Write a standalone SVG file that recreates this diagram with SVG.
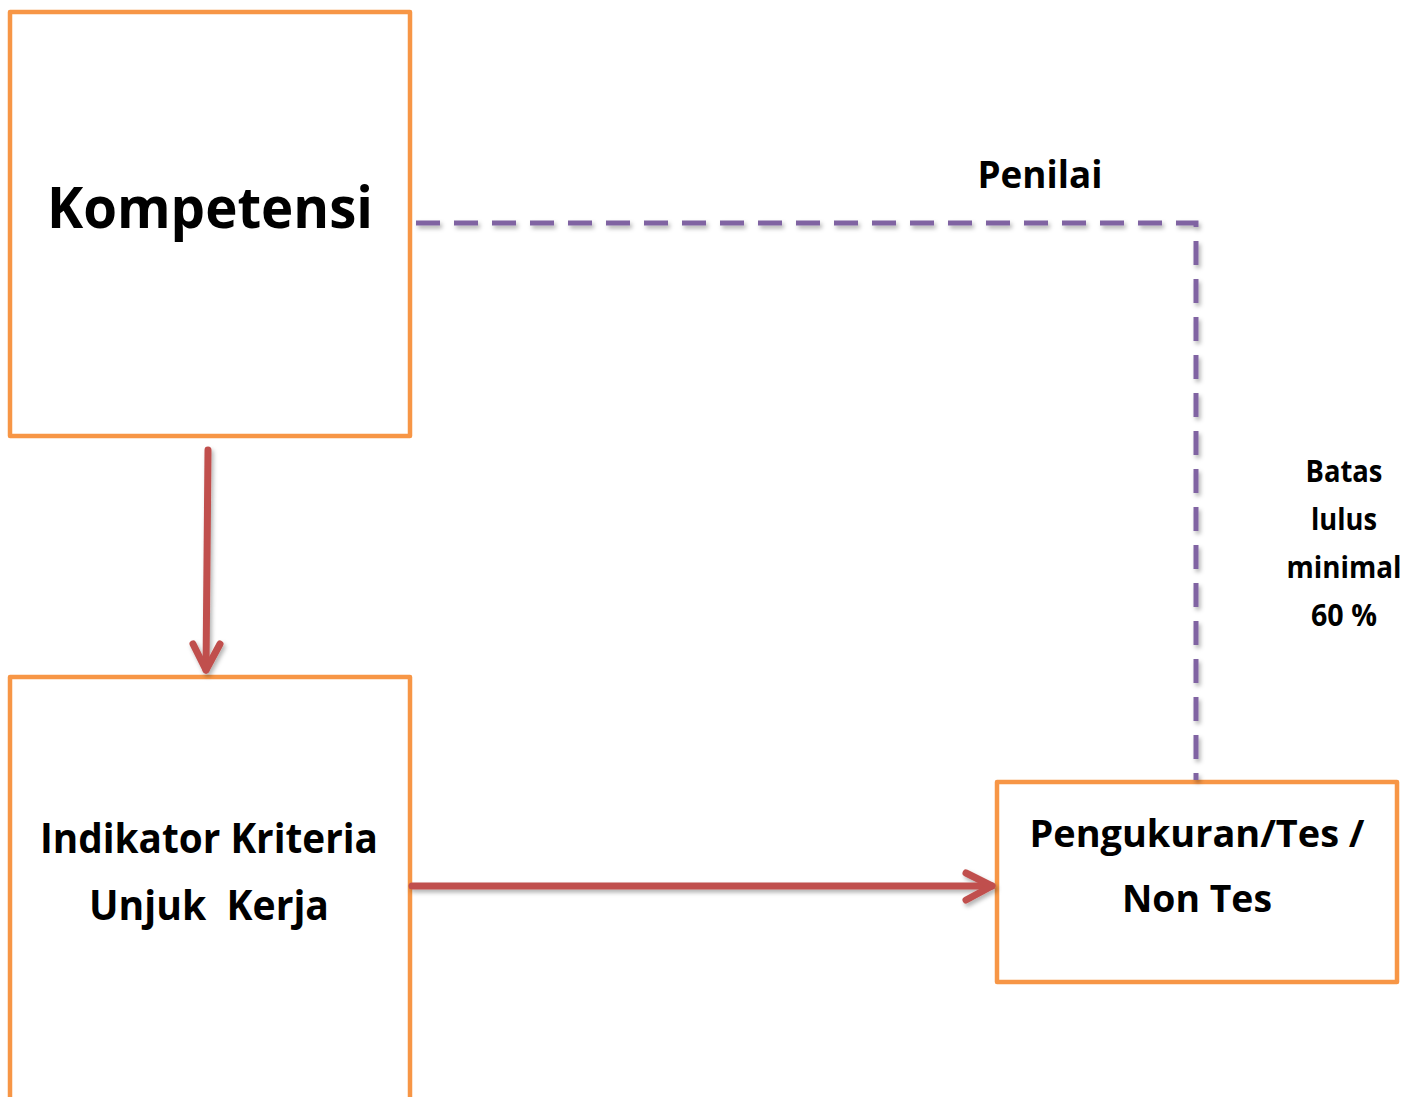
<svg xmlns="http://www.w3.org/2000/svg" width="1421" height="1097" viewBox="0 0 1421 1097">
  <style>
    .box { fill: #ffffff; stroke: #F79646; stroke-width: 4.5; stroke-linejoin: round; }
    .lbl { font-family: "Open Sans", "Liberation Sans", sans-serif; font-weight: 700; fill: #000000; }
    .flow { fill: none; stroke: #C0504D; stroke-width: 7; stroke-linecap: round; stroke-linejoin: round; }
    .dash { fill: none; stroke: #8064A2; stroke-width: 5; stroke-dasharray: 24 14; }
  </style>
  <defs>
    <filter id="shadow" x="-10%" y="-10%" width="130%" height="130%">
      <feDropShadow dx="2" dy="3" stdDeviation="2" flood-color="#000000" flood-opacity="0.3"/>
    </filter>
  </defs>

  <rect width="1421" height="1097" fill="#ffffff"/>

  <g id="node-kompetensi">
    <rect class="box" x="10" y="12" width="400" height="424"/>
    <text class="lbl" x="210" y="228" font-size="58" text-anchor="middle" textLength="326" lengthAdjust="spacingAndGlyphs">Kompetensi</text>
  </g>

  <g id="node-indikator">
    <rect class="box" x="10" y="677" width="400" height="440"/>
    <text class="lbl" x="209" y="853" font-size="41" text-anchor="middle" textLength="338" lengthAdjust="spacingAndGlyphs">Indikator Kriteria</text>
    <text class="lbl" x="209" y="920" font-size="41" text-anchor="middle" textLength="240" lengthAdjust="spacingAndGlyphs" xml:space="preserve" style="white-space:pre">Unjuk  Kerja</text>
  </g>

  <g id="node-pengukuran">
    <rect class="box" x="997" y="782" width="400" height="200"/>
    <text class="lbl" x="1197" y="847" font-size="38" text-anchor="middle" textLength="335" lengthAdjust="spacingAndGlyphs">Pengukuran/Tes /</text>
    <text class="lbl" x="1197" y="912" font-size="38" text-anchor="middle" textLength="150" lengthAdjust="spacingAndGlyphs">Non Tes</text>
  </g>

  <g id="connectors">
    <g filter="url(#shadow)">
      <path class="dash" d="M416 223 H1196 V780"/>
    </g>
    <g filter="url(#shadow)">
      <path class="flow" d="M208 450 L206 670"/>
      <path class="flow" d="M193 644 L206 670 L220 644"/>
      <path class="flow" d="M412 886 H992"/>
      <path class="flow" d="M966 873 L992 886 L966 900"/>
    </g>
  </g>

  <g id="labels">
    <text class="lbl" x="1040" y="188" font-size="38" text-anchor="middle" textLength="125" lengthAdjust="spacingAndGlyphs">Penilai</text>
    <text class="lbl" x="1344" y="482" font-size="30" text-anchor="middle" textLength="77" lengthAdjust="spacingAndGlyphs">Batas</text>
    <text class="lbl" x="1344" y="530" font-size="30" text-anchor="middle" textLength="66" lengthAdjust="spacingAndGlyphs">lulus</text>
    <text class="lbl" x="1344" y="578" font-size="30" text-anchor="middle" textLength="115" lengthAdjust="spacingAndGlyphs">minimal</text>
    <text class="lbl" x="1344" y="626" font-size="30" text-anchor="middle" textLength="66" lengthAdjust="spacingAndGlyphs">60 %</text>
  </g>
</svg>
